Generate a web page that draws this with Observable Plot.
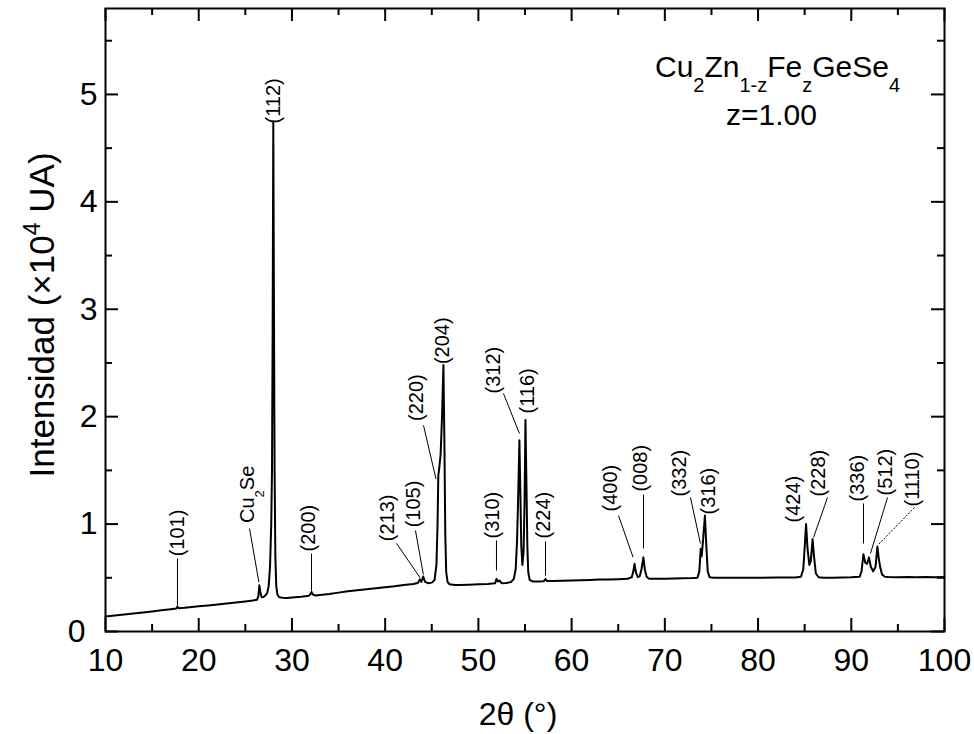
<!DOCTYPE html>
<html><head><meta charset="utf-8">
<script src="https://cdn.jsdelivr.net/npm/d3@7"></script>
<script src="https://cdn.jsdelivr.net/npm/@observablehq/plot@0.6"></script>
<style>body{margin:0;background:#fff}</style>
</head><body><div id="chart"></div>
<script>
// XRD pattern, 2θ (degrees) and intensity (×10^4 UA)
const twoTheta = [10,11,12,13,14,15,16,17,17.6,17.72,17.85,18.5,19,20,21,22,23,24,25,25.8,26.25,26.4,26.5,26.62,26.75,26.95,27.15,27.35,27.5,27.65,27.78,27.86,27.93,28.0,28.07,28.14,28.22,28.32,28.45,28.65,29,29.5,30,31,31.8,31.98,32.1,32.22,32.5,33,34,35,36,37,38,39,40,41,42,43,43.5,43.72,43.88,44.08,44.28,44.6,45,45.3,45.5,45.62,45.7,45.8,45.95,46.1,46.25,46.35,46.45,46.55,46.7,46.9,47.5,48,49,50,51,51.8,51.95,52.1,52.25,52.5,53,53.5,53.8,54.0,54.15,54.28,54.4,54.5,54.6,54.72,54.85,54.95,55.05,55.15,55.25,55.35,55.5,55.8,56.5,57.0,57.2,57.35,58,59,60,61,62,63,64,65,66,66.45,66.62,66.75,66.9,67.1,67.3,67.5,67.7,67.85,68.05,68.3,69,70,71,72,73,73.5,73.7,73.85,73.95,74.1,74.3,74.45,74.6,74.8,75.2,76,78,80,82,84,84.6,84.85,85.0,85.15,85.3,85.5,85.65,85.85,86.0,86.2,86.5,87,88,89,90,90.9,91.1,91.3,91.5,91.7,91.9,92.1,92.35,92.6,92.8,92.95,93.1,93.3,93.6,94,95,96,97,98,99,100];
const intensity = [0.140,0.150,0.159,0.168,0.177,0.187,0.197,0.208,0.214,0.232,0.216,0.221,0.226,0.234,0.242,0.251,0.260,0.270,0.280,0.289,0.295,0.33,0.43,0.36,0.318,0.322,0.335,0.36,0.42,0.6,1.0,1.5,2.8,4.75,3.0,1.5,0.7,0.42,0.34,0.318,0.314,0.312,0.316,0.324,0.332,0.348,0.368,0.345,0.335,0.340,0.350,0.362,0.375,0.385,0.393,0.402,0.412,0.421,0.432,0.442,0.452,0.485,0.462,0.512,0.462,0.450,0.455,0.48,0.62,1.0,1.45,1.52,1.65,2.0,2.48,1.8,0.9,0.55,0.46,0.44,0.432,0.433,0.436,0.44,0.443,0.45,0.49,0.465,0.475,0.45,0.452,0.46,0.49,0.58,0.85,1.3,1.78,1.3,0.8,0.62,0.75,1.2,1.97,1.4,0.8,0.55,0.48,0.466,0.465,0.467,0.488,0.47,0.47,0.472,0.475,0.478,0.48,0.483,0.485,0.487,0.49,0.505,0.56,0.63,0.55,0.505,0.515,0.58,0.69,0.58,0.51,0.492,0.49,0.492,0.493,0.495,0.497,0.50,0.56,0.77,0.70,0.85,1.08,0.80,0.56,0.505,0.50,0.50,0.50,0.50,0.502,0.503,0.51,0.58,0.78,1.0,0.78,0.62,0.65,0.86,0.70,0.54,0.505,0.50,0.50,0.502,0.505,0.51,0.56,0.72,0.64,0.63,0.69,0.60,0.56,0.60,0.79,0.68,0.60,0.53,0.51,0.507,0.505,0.508,0.505,0.507,0.506,0.508];

// axis ticks
const majorX = [10,20,30,40,50,60,70,80,90,100];
const minorX = [15,25,35,45,55,65,75,85,95];
const majorY = [0,1,2,3,4,5];
const minorY = [0.5,1.5,2.5,3.5,4.5,5.5];

// peak labels (text anchor in data units) and leader lines
const labelText = ["(101)","Cu_{2}Se","(112)","(200)","(213)","(105)","(220)","(204)","(310)","(312)","(116)","(224)","(400)","(008)","(332)","(316)","(424)","(228)","(336)","(512)","(1110)"];
const labelX = [17.72,25.23,28.02,31.78,40.25,43.04,43.36,46.15,51.51,51.62,55.27,56.98,64.17,67.39,71.57,74.65,83.80,86.48,90.67,93.67,96.57];
const labelY = [0.70,1.01,4.73,0.745,0.84,0.97,1.96,2.49,0.866,2.216,2.03,0.866,1.117,1.303,1.257,1.089,1.015,1.257,1.21,1.266,1.164];
const leaderX1 = [17.72,25.45,null,32.10,41.22,43.25,44.11,null,51.94,52.69,null,57.20,65.03,67.71,72.75,null,null,87.45,91.31,93.89,96.78];
const leaderY1 = [0.68,0.96,null,0.726,0.82,0.94,1.92,null,0.847,2.216,null,0.838,1.08,1.275,1.248,null,null,1.248,1.192,1.248,1.154];
const leaderX2 = [17.72,26.45,null,32.10,43.75,44.10,45.45,null,51.94,54.41,null,57.20,66.60,67.71,73.82,null,null,85.95,91.31,92.06,92.81];
const leaderY2 = [0.24,0.46,null,0.38,0.50,0.53,1.42,null,0.568,1.843,null,0.521,0.69,0.773,0.819,null,null,0.875,0.819,0.726,0.80];
const dottedLeader = ["(1110)"];

const formula = "Cu_{2}Zn_{1-z}Fe_{z}GeSe_{4}";
const composition = "z=1.00";
const xTitle = "2θ (°)";
const yTitle = "Intensidad (×10^{4} UA)";

const spectrum = twoTheta.map((t, i) => ({t, v: intensity[i]}));
const labels = labelText.map((text, i) => ({text, x: labelX[i], y: labelY[i]}));
const leaders = labelText.map((text, i) => ({text, x1: leaderX1[i], y1: leaderY1[i], x2: leaderX2[i], y2: leaderY2[i]}))
  .filter(d => d.x1 != null);

const W = 974, H = 734, mL = 105, mR = 30, mT = 8, mB = 103;
const innerW = W - mL - mR, innerH = H - mT - mB;

const svg = Plot.plot({
  width: W, height: H,
  marginLeft: mL, marginRight: mR, marginTop: mT, marginBottom: mB,
  style: {fontFamily: "'Liberation Sans', Arial, sans-serif", background: "white", color: "black", overflow: "visible"},
  x: {domain: [10, 100]},
  y: {domain: [0, 5.8]},
  marks: [
    Plot.line(spectrum, {x: "t", y: "v", stroke: "black", strokeWidth: 2, strokeLinejoin: "round"}),
    Plot.link(leaders.filter(d => !dottedLeader.includes(d.text)), {x1: "x1", y1: "y1", x2: "x2", y2: "y2", stroke: "black", strokeWidth: 1}),
    Plot.link(leaders.filter(d => dottedLeader.includes(d.text)), {x1: "x1", y1: "y1", x2: "x2", y2: "y2", stroke: "black", strokeWidth: 1, strokeDasharray: "2,1.5"}),
    Plot.text(labels, {x: "x", y: "y", text: "text", rotate: -90, textAnchor: "start", lineAnchor: "middle", fontSize: 20, fill: "black"}),
    // ticks inward
    Plot.tickX(majorX, {x: d => d, insetTop: innerH - 13, strokeWidth: 2}),
    Plot.tickX(majorX, {x: d => d, insetBottom: innerH - 13, strokeWidth: 2}),
    Plot.tickX(minorX, {x: d => d, insetTop: innerH - 7, strokeWidth: 2}),
    Plot.tickX(minorX, {x: d => d, insetBottom: innerH - 7, strokeWidth: 2}),
    Plot.tickY(majorY, {y: d => d, insetRight: innerW - 13, strokeWidth: 2}),
    Plot.tickY(majorY, {y: d => d, insetLeft: innerW - 13, strokeWidth: 2}),
    Plot.tickY(minorY, {y: d => d, insetRight: innerW - 7, strokeWidth: 2}),
    Plot.tickY(minorY, {y: d => d, insetLeft: innerW - 7, strokeWidth: 2}),
    Plot.frame({stroke: "black", strokeWidth: 2}),
    Plot.axisX({ticks: majorX, tickSize: 0, tickPadding: 17, fontSize: 32, label: null, tickFormat: d3.format("d")}),
    Plot.axisY({ticks: majorY.filter(d => d !== 0), tickSize: 0, tickPadding: 8, fontSize: 32, label: null, tickFormat: d3.format("d")}),
    Plot.axisY({ticks: [0], tickSize: 0, tickPadding: 20, fontSize: 32, label: null, tickFormat: d3.format("d")}),
    Plot.text([xTitle], {frameAnchor: "bottom", text: d => d, dy: 83, dx: -7, fontSize: 32, lineAnchor: "middle", textAnchor: "middle"}),
    Plot.text([yTitle], {frameAnchor: "left", text: d => d, rotate: -90, dx: -63, dy: -5, fontSize: 35, lineAnchor: "middle", textAnchor: "middle"}),
    Plot.text([formula], {x: 82.09, y: 5.158, text: d => d, fontSize: 30, lineAnchor: "bottom", textAnchor: "middle"}),
    Plot.text([composition], {x: 81.44, y: 4.711, text: d => d, fontSize: 30, lineAnchor: "bottom", textAnchor: "middle"})
  ]
});

// Convert _{..} / ^{..} markup into sub/superscript tspans
function rich(el) {
  const s = el.textContent;
  if (!/[_^]\{/.test(s)) return;
  const base = parseFloat(el.closest("[font-size]")?.getAttribute("font-size")) || 20;
  const re = /([_^])\{([^}]*)\}/g;
  const parts = []; let last = 0, m;
  while ((m = re.exec(s))) {
    if (m.index > last) parts.push({t: s.slice(last, m.index)});
    parts.push({t: m[2], k: m[1]});
    last = re.lastIndex;
  }
  if (last < s.length) parts.push({t: s.slice(last)});
  el.textContent = "";
  let cur = 0;
  for (const p of parts) {
    const ts = document.createElementNS("http://www.w3.org/2000/svg", "tspan");
    const target = p.k === "_" ? base * 0.5 : p.k === "^" ? -base * 0.4 : 0;
    ts.setAttribute("dy", target - cur); cur = target;
    if (p.k) ts.setAttribute("font-size", Math.round(base * 0.66));
    ts.textContent = p.t;
    el.appendChild(ts);
  }
}
svg.querySelectorAll("text").forEach(rich);

document.getElementById("chart").appendChild(svg);
</script>
</body></html>
